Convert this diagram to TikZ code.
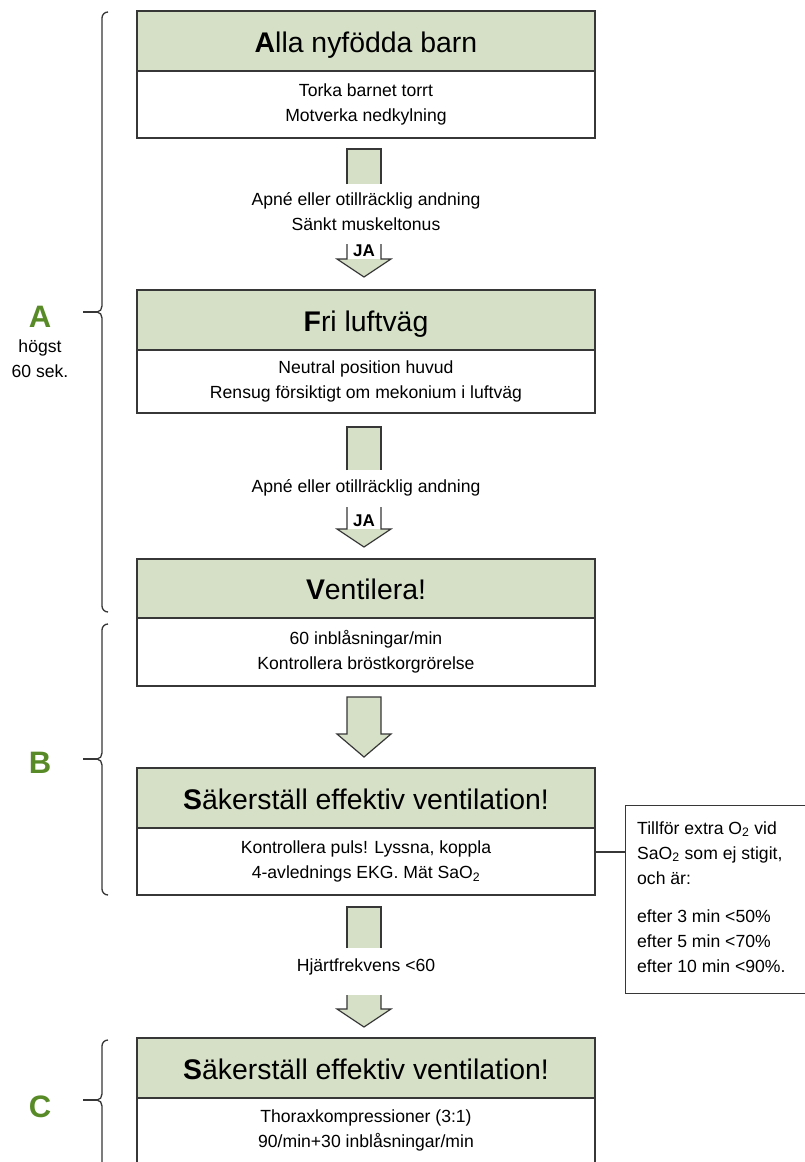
\documentclass[tikz,border=0pt]{standalone}
\usepackage{fontspec}
\setmainfont{Liberation Sans}
\definecolor{hdrc}{RGB}{214,224,199}
\definecolor{lc}{RGB}{55,55,55}
\definecolor{grn}{RGB}{88,139,39}
\tikzset{
  hdr/.style={draw=lc, fill=hdrc, line width=1.2pt, minimum width=458pt, inner sep=0pt, text height=25pt, text depth=3pt, font=\fontsize{28.4}{30}\selectfont},
  bdy/.style={draw=lc, fill=white, line width=1.2pt, minimum width=458pt, inner sep=0pt, align=center, font=\fontsize{17.6}{25}\selectfont},
  txt/.style={inner sep=0pt, align=center, font=\fontsize{17.6}{25}\selectfont},
  jalab/.style={inner sep=0pt, font=\fontsize{17}{18}\selectfont\bfseries},
  outl/.style={draw=lc, line width=1.2pt, line join=miter},
  brc/.style={draw=lc, line width=1.3pt},
  side/.style={inner sep=0pt, align=center, font=\fontsize{17.6}{25}\selectfont},
  sbtxt/.style={inner sep=0pt, anchor=west, align=left, font=\fontsize{17.6}{25}\selectfont},
  big/.style={inner sep=0pt, text=grn, font=\fontsize{31}{32}\selectfont\bfseries}
}
\begin{document}
\begin{tikzpicture}[x=1pt,y=-1pt]
\useasboundingbox (0,0) rectangle (805,1162);
\clip (0,0) rectangle (805,1162);
\fill[white] (0,0) rectangle (805,1162);

% Box 1
\node[hdr, minimum height=60pt] (h1) at (366,41) {\textbf{A}lla nyfödda barn};
\node[bdy, minimum height=67pt] (b1) at (366,104.5) {Torka barnet torrt\\Motverka nedkylning};
% Box 2
\node[hdr, minimum height=60pt] (h2) at (366,320) {\textbf{F}ri luftväg};
\node[bdy, minimum height=63pt] (b2) at (366,381.5) {Neutral position huvud\\Rensug försiktigt om mekonium i luftväg};
% Box 3
\node[hdr, minimum height=59pt] (h3) at (366,588.5) {\textbf{V}entilera!};
\node[bdy, minimum height=68pt] (b3) at (366,652) {60 inblåsningar/min\\Kontrollera bröstkorgrörelse};
% Box 4
\node[hdr, minimum height=60pt] (h4) at (366,798) {\textbf{S}äkerställ effektiv ventilation!};
\node[bdy, minimum height=67pt] (b4) at (366,861.5) {Kontrollera puls! Lyssna, koppla\\4-avlednings EKG. Mät SaO\textsubscript{2}};
% Box 5
\node[hdr, minimum height=60pt] (h5) at (366,1068) {\textbf{S}äkerställ effektiv ventilation!};
\node[bdy, minimum height=92pt, anchor=north] (b5) at (366,1098) {};
\node[txt] (t5) at (366,1130) {Thoraxkompressioner (3:1)\\90/min+30 inblåsningar/min};

% Arrow 1 (A -> F)
\fill[hdrc] (347,149) rectangle (381,184);
\fill[hdrc] (337,259) -- (364,277) -- (391,259) -- cycle;
\draw[outl] (347,184) -- (347,149) -- (381,149) -- (381,184);
\draw[outl] (347,244) -- (347,259) -- (337,259) -- (364,277) -- (391,259) -- (381,259) -- (381,244);
\node[txt] (q1) at (366,212) {Apné eller otillräcklig andning\\Sänkt muskeltonus};
\node[jalab] (ja1) at (364,251) {JA};

% Arrow 2 (F -> V)
\fill[hdrc] (347,427) rectangle (381,470);
\fill[hdrc] (337,529) -- (364,547) -- (391,529) -- cycle;
\draw[outl] (347,470) -- (347,427) -- (381,427) -- (381,470);
\draw[outl] (347,507) -- (347,529) -- (337,529) -- (364,547) -- (391,529) -- (381,529) -- (381,507);
\node[txt] (q2) at (366,488) {Apné eller otillräcklig andning};
\node[jalab] (ja2) at (364,521) {JA};

% Arrow 3 (V -> S)
\filldraw[outl, fill=hdrc] (347,697) -- (381,697) -- (381,734) -- (391,734) -- (364,757) -- (337,734) -- (347,734) -- cycle;

% Arrow 4 (S -> S)
\fill[hdrc] (347,907) rectangle (381,948);
\fill[hdrc] (347,995) rectangle (381,1009);
\fill[hdrc] (337,1009) -- (364,1027) -- (391,1009) -- cycle;
\draw[outl] (347,948) -- (347,907) -- (381,907) -- (381,948);
\draw[outl] (347,995) -- (347,1009) -- (337,1009) -- (364,1027) -- (391,1009) -- (381,1009) -- (381,995);
\node[txt] (q4) at (366,967) {Hjärtfrekvens <60};

% Side box
\node[draw=lc, line width=1.2pt, fill=white, minimum width=182pt, minimum height=188pt, anchor=north west] (sb) at (625,805) {};
\node[sbtxt] (sbt1) at (637,853) {Tillför extra O\textsubscript{2} vid\\SaO\textsubscript{2} som ej stigit,\\och är:};
\node[sbtxt] (sbt2) at (637,941) {efter 3 min <50\%\\efter 5 min <70\%\\efter 10 min <90\%.};
\coordinate (cc) at (595,852);
\draw[outl] (cc) -- (cc -| sb.west);

% Braces
\draw[brc] (108,12) to[out=180,in=90] (102,18) -- (102,306) to[out=-90,in=0] (97,312) to[out=0,in=90] (102,318) -- (102,606) to[out=-90,in=180] (108,612);
\draw[brc] (83,312) -- (97,312);
\draw[brc] (108,624) to[out=180,in=90] (102,630) -- (102,753) to[out=-90,in=0] (97,759) to[out=0,in=90] (102,765) -- (102,889) to[out=-90,in=180] (108,895);
\draw[brc] (83,759) -- (97,759);
\draw[brc] (108,1040) to[out=180,in=90] (102,1046) -- (102,1094) to[out=-90,in=0] (97,1100) to[out=0,in=90] (102,1106) -- (102,1180);
\draw[brc] (83,1100) -- (97,1100);

% Side labels
\node[big] (la) at (40,317) {A};
\node[side] (lat) at (40,359) {högst\\60 sek.};
\node[big] (lb) at (40,763) {B};
\node[big] (lcc) at (40,1107) {C};
\end{tikzpicture}
\end{document}
